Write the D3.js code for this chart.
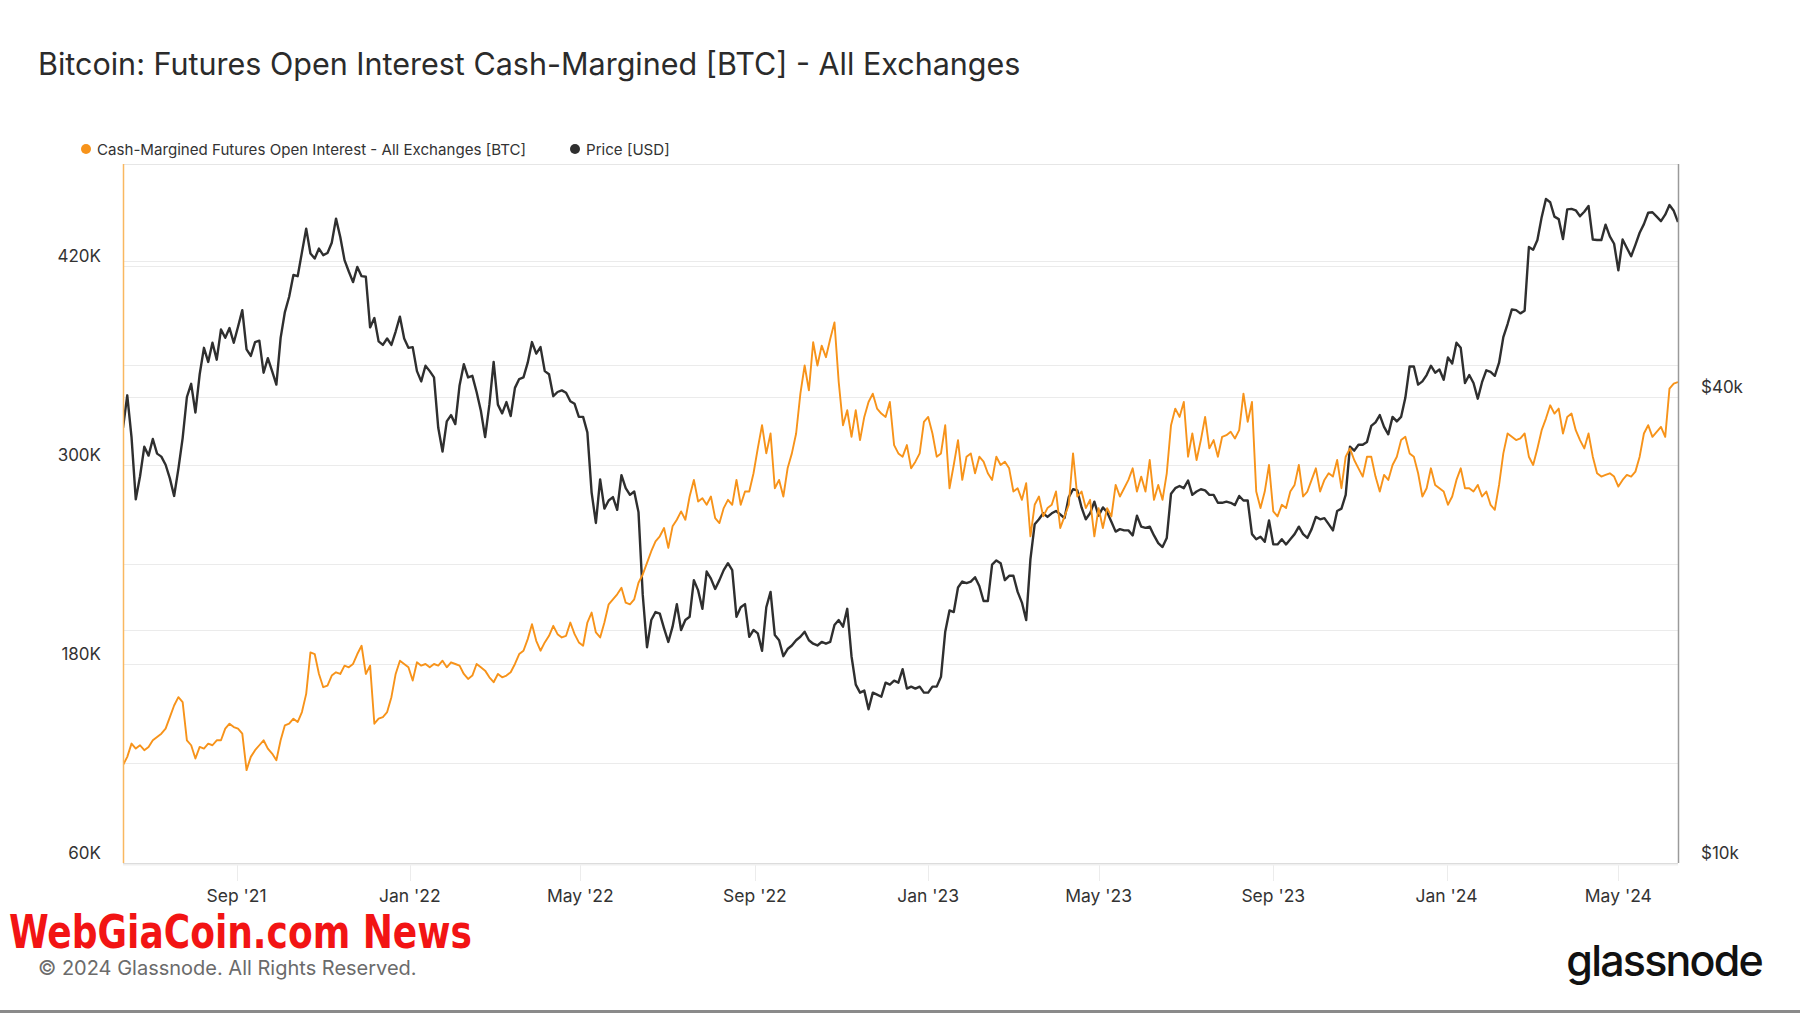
<!DOCTYPE html>
<html>
<head>
<meta charset="utf-8">
<script src="https://cdn.jsdelivr.net/npm/d3@7"></script>
<style>
  body { margin: 0; background: #fff; }
  svg { display: block; font-family: Inter, "Noto Sans", sans-serif; }
</style>
</head>
<body>
<svg id="chart" width="1800" height="1013"></svg>
<script>
// ---------- data ----------
const seriesStart = "2021-06-13";
const stepDays = 3;
const domainStart = "2021-06-13";
const domainEnd = "2024-06-12";

// Cash-margined futures open interest, thousands of BTC, one value every 3 days
const openInterestK = [
119,124,132,129,131,128,130,134,136,138,
141,148,155,160,157,134,131,123,130,129,
132,131,134,134,141,144,142,141,138,116,
124,128,131,134,129,126,122,134,143,144,
147,145,151,162,187,186,174,166,167,173,
175,174,179,178,180,186,191,174,179,144,
147,148,151,160,174,182,180,178,170,181,
179,180,178,180,
179,182,178,181,180,179,174,171,173,180,
178,176,172,169,174,172,173,175,180,186,
188,195,204,194,188,193,197,203,198,196,
197,205,198,193,191,205,211,199,196,205,
216,219,222,226,217,216,219,229,234,241,
248,254,257,262,250,263,267,272,267,281,
291,278,280,276,281,268,265,274,279,276,
291,276,284,
284,295,310,324,307,319,286,291,281,298,
307,319,343,360,345,374,360,372,365,376,
386,350,324,333,317,333,315,329,338,343,
334,331,329,338,312,307,305,312,298,302,
307,326,329,319,305,307,324,286,300,315,
291,305,307,295,305,302,295,291,305,300,
302,298,284,286,279,289,257,276,281,269,
274,276,284,
262,269,276,307,281,284,274,279,257,274,
262,274,269,288,281,286,291,298,284,293,
284,303,279,288,279,295,324,334,329,338,
305,319,303,315,329,310,315,305,317,318,
320,316,321,343,326,338,284,274,284,300,
272,269,276,274,284,288,300,281,284,291,
298,284,291,295,293,303,286,305,310,303,
298,293,305,
305,293,284,294,291,300,305,315,317,307,
305,295,281,286,298,288,286,284,276,281,
291,298,286,286,284,288,281,284,276,273,
288,307,319,317,315,316,319,305,300,310,
321,328,336,331,334,319,329,331,321,315,
310,319,305,295,293,294,295,293,287,291,
294,293,296,305,319,324,317,320,323,317,
346,349,350
];

// BTC price, thousands of USD, one value every 3 days
const priceK = [
36.5,40.2,35.5,29.5,31.6,34.5,33.6,35.3,33.8,33.5,
32.7,31.4,29.8,32.3,35.4,40.0,41.6,38.2,42.8,46.3,
44.4,47.0,44.7,48.9,47.7,49.1,47.0,49.3,51.8,46.1,
45.2,47.1,47.3,43.0,44.9,43.2,41.5,47.7,51.5,53.9,
57.5,57.3,61.5,66.0,61.3,60.4,62.2,61.0,61.4,63.3,
68.0,64.4,60.1,58.1,56.3,58.9,57.3,57.2,49.2,50.6,
47.2,46.7,47.6,46.7,48.6,50.8,47.6,46.3,46.4,43.2,
41.9,43.9,43.2,42.4,36.5,34.0,37.2,37.9,36.9,41.4,
44.1,42.4,42.6,40.6,38.4,35.5,39.1,44.4,39.1,38.1,
39.4,37.8,41.1,42.2,42.4,44.3,47.1,45.5,46.4,43.2,
42.8,40.1,40.6,40.8,40.5,39.5,39.2,37.7,37.7,36.0,
30.1,27.5,31.3,28.7,29.4,29.7,28.6,31.7,30.5,29.9,
30.2,28.4,22.2,19.0,20.6,21.1,21.0,20.1,19.3,20.2,
21.6,20.0,20.6,20.8,23.2,22.5,21.3,23.8,23.3,22.6,
23.2,23.9,24.4,23.9,20.8,21.4,21.6,19.6,20.0,19.8,
18.8,21.4,22.4,19.7,19.4,18.5,18.9,19.1,19.4,19.6,
19.9,19.4,19.2,19.1,19.3,19.2,19.3,20.3,20.6,20.2,
21.3,18.5,17.0,16.6,16.7,15.8,16.6,16.5,16.4,17.1,
17.0,17.2,17.1,17.8,16.8,16.9,16.8,16.9,16.6,16.6,
16.9,16.9,17.4,19.9,21.2,21.1,22.7,23.1,23.0,23.1,
23.4,22.8,21.8,21.8,24.3,24.6,24.4,23.2,23.5,23.5,
22.4,21.7,20.6,24.7,27.4,27.8,28.3,28.0,28.3,28.5,
28.2,27.9,29.7,30.4,30.3,28.8,27.8,28.3,29.3,28.1,
28.8,28.4,27.6,26.8,27.0,26.9,26.9,26.5,28.1,27.2,
27.1,27.2,26.5,25.9,25.6,26.3,30.0,30.5,30.7,30.5,
31.2,29.9,30.2,30.4,30.3,29.9,29.9,29.2,29.2,29.3,
29.2,29.0,29.8,29.4,29.4,26.6,26.2,26.4,26.0,27.7,
25.8,25.8,26.2,25.8,26.2,26.6,27.2,26.6,26.3,27.0,
28.0,27.8,27.9,27.4,26.9,28.5,28.7,29.9,34.5,34.1,
34.7,34.7,35.0,36.7,37.1,37.9,36.6,35.8,37.7,37.2,
37.7,39.9,43.8,43.8,41.5,41.9,42.7,43.9,43.0,43.4,
42.1,45.0,44.2,47.0,46.3,41.7,42.7,41.7,39.8,41.8,
43.3,43.1,42.6,44.3,47.8,49.7,51.9,51.8,51.3,51.7,
62.5,62.0,63.8,68.3,72.1,71.4,68.4,67.9,64.0,69.9,
70.0,69.7,68.5,69.4,70.6,63.9,63.8,63.8,66.8,64.5,
63.1,58.3,63.9,62.3,60.8,62.9,65.2,66.9,69.2,69.3,
68.4,67.5,68.8,70.8,69.6,67.3
];

const leftGridTicks = [120000, 180000, 240000, 300000, 360000, 420000];
const leftLabelTicks = [60000, 180000, 300000, 420000];
const rightGridTicks = [20000, 40000, 60000];
const rightLabelTicks = [10000, 40000];
const xTickDates = ["2021-09-01","2022-01-01","2022-05-01","2022-09-01","2023-01-01","2023-05-01","2023-09-01","2024-01-01","2024-05-01"];

const titleText = "Bitcoin: Futures Open Interest Cash-Margined [BTC] - All Exchanges";
const legendItems = [
  { label: "Cash-Margined Futures Open Interest - All Exchanges [BTC]", color: "#f7931a" },
  { label: "Price [USD]", color: "#2f2f2f" }
];

// ---------- layout ----------
const W = 1800, H = 1013;
const plot = { left: 123, right: 1678, top: 164, bottom: 863 };
const svg = d3.select("#chart");

const parse = d3.utcParse("%Y-%m-%d");
const t0 = parse(seriesStart);
const oiData = openInterestK.map((v, i) => ({ date: d3.utcDay.offset(t0, i * stepDays), value: v * 1000 }));
const priceData = priceK.map((v, i) => ({ date: d3.utcDay.offset(t0, i * stepDays), value: v * 1000 }));

const x = d3.scaleUtc().domain([parse(domainStart), parse(domainEnd)]).range([plot.left, plot.right]);
const yL = d3.scaleLinear().domain([60000, 481500]).range([plot.bottom, plot.top]);
const yR = d3.scaleLog().domain([10000, 80000]).range([plot.bottom, plot.top]);

svg.append("rect").attr("width", W).attr("height", H).attr("fill", "#fff");

// title
svg.append("text").attr("x", 38).attr("y", 75)
  .attr("font-size", 30.5).attr("fill", "#2b2b2b").attr("font-weight", 400)
  .text(titleText);

// legend
const lg = svg.append("g").attr("transform", "translate(86,149)");
const legendOffsets = [0, 489];
legendItems.forEach((d, i) => {
  const g = lg.append("g").attr("transform", `translate(${legendOffsets[i]},0)`);
  g.append("circle").attr("r", 5).attr("cx", 0).attr("cy", 0).attr("fill", d.color);
  g.append("text").attr("x", 11).attr("y", 5.5).attr("font-size", 15.1).attr("fill", "#333").text(d.label);
});

// grid
const grid = svg.append("g");
grid.selectAll("line.gl").data(leftGridTicks).join("line")
  .attr("x1", plot.left).attr("x2", plot.right)
  .attr("y1", d => Math.round(yL(d)) + 0.5).attr("y2", d => Math.round(yL(d)) + 0.5)
  .attr("stroke", "#ebebeb").attr("stroke-width", 1);
grid.selectAll("line.gr").data(rightGridTicks).join("line")
  .attr("x1", plot.left).attr("x2", plot.right)
  .attr("y1", d => Math.round(yR(d)) + 0.5).attr("y2", d => Math.round(yR(d)) + 0.5)
  .attr("stroke", "#ebebeb").attr("stroke-width", 1);

// top border
svg.append("line").attr("x1", plot.left).attr("x2", plot.right).attr("y1", plot.top + 0.5).attr("y2", plot.top + 0.5)
  .attr("stroke", "#e6e6e6");

// x tick marks
const xTicks = xTickDates.map(parse);
svg.append("g").selectAll("line").data(xTicks).join("line")
  .attr("x1", d => Math.round(x(d)) + 0.5).attr("x2", d => Math.round(x(d)) + 0.5)
  .attr("y1", plot.bottom).attr("y2", plot.bottom + 18)
  .attr("stroke", "#ececec");

// bottom border with soft shadow
svg.append("line").attr("x1", plot.left).attr("x2", plot.right).attr("y1", plot.bottom + 1.5).attr("y2", plot.bottom + 1.5)
  .attr("stroke", "#f0f0f0").attr("stroke-width", 2);
svg.append("line").attr("x1", plot.left).attr("x2", plot.right).attr("y1", plot.bottom + 0.5).attr("y2", plot.bottom + 0.5)
  .attr("stroke", "#dcdcdc");

// clip
svg.append("clipPath").attr("id", "clip").append("rect")
  .attr("x", plot.left).attr("y", plot.top).attr("width", plot.right - plot.left).attr("height", plot.bottom - plot.top);

const lines = svg.append("g").attr("clip-path", "url(#clip)");
lines.append("path").datum(priceData)
  .attr("fill", "none").attr("stroke", "#2f2f2f").attr("stroke-width", 2.4).attr("stroke-linejoin", "round")
  .attr("d", d3.line().x(d => x(d.date)).y(d => yR(d.value)));
lines.append("path").datum(oiData)
  .attr("fill", "none").attr("stroke", "#f7931a").attr("stroke-width", 1.9).attr("stroke-linejoin", "round")
  .attr("d", d3.line().x(d => x(d.date)).y(d => yL(d.value)));

// left axis line (orange) and right axis line (grey)
svg.append("line").attr("x1", plot.left + 0.5).attr("x2", plot.left + 0.5).attr("y1", plot.top).attr("y2", plot.bottom)
  .attr("stroke", "#f9b860").attr("stroke-width", 1.5);
svg.append("line").attr("x1", plot.right + 0.5).attr("x2", plot.right + 0.5).attr("y1", plot.top).attr("y2", plot.bottom)
  .attr("stroke", "#9a9a9a").attr("stroke-width", 1.5);

// axis labels
const fmtK = v => d3.format("d")(v / 1000) + "K";
svg.append("g").selectAll("text").data(leftLabelTicks).join("text")
  .attr("x", 101).attr("y", d => yL(d) - 4).attr("text-anchor", "end")
  .attr("font-size", 17).attr("fill", "#333").text(fmtK);
const fmtUsd = v => "$" + d3.format("d")(v / 1000) + "k";
svg.append("g").selectAll("text").data(rightLabelTicks).join("text")
  .attr("x", 1701).attr("y", d => yR(d) - 4).attr("text-anchor", "start")
  .attr("font-size", 17).attr("fill", "#333").text(fmtUsd);
const fmtDate = d3.utcFormat("%b '%y");
svg.append("g").selectAll("text").data(xTicks).join("text")
  .attr("x", d => x(d)).attr("y", 902).attr("text-anchor", "middle")
  .attr("font-size", 17.5).attr("fill", "#333").text(fmtDate);

// watermark
svg.append("text").attr("x", 9).attr("y", 948)
  .attr("font-family", "'Liberation Sans Narrow', 'DejaVu Sans Condensed', sans-serif")
  .attr("font-weight", 700).attr("font-size", 46).attr("fill", "#f21414")
  .attr("textLength", 463).attr("lengthAdjust", "spacingAndGlyphs")
  .text("WebGiaCoin.com News");

// footer
svg.append("text").attr("x", 38).attr("y", 975)
  .attr("font-size", 20).attr("fill", "#6b6b6b").text("© 2024 Glassnode. All Rights Reserved.");
svg.append("text").attr("x", 1762).attr("y", 976).attr("text-anchor", "end")
  .attr("font-size", 43).attr("font-weight", 500).attr("fill", "#111").attr("letter-spacing", -1.8)
  .text("glassnode");

// bottom frame line
svg.append("rect").attr("x", 0).attr("y", 1010).attr("width", W).attr("height", 3).attr("fill", "#8a8a8a");
</script>
</body>
</html>
